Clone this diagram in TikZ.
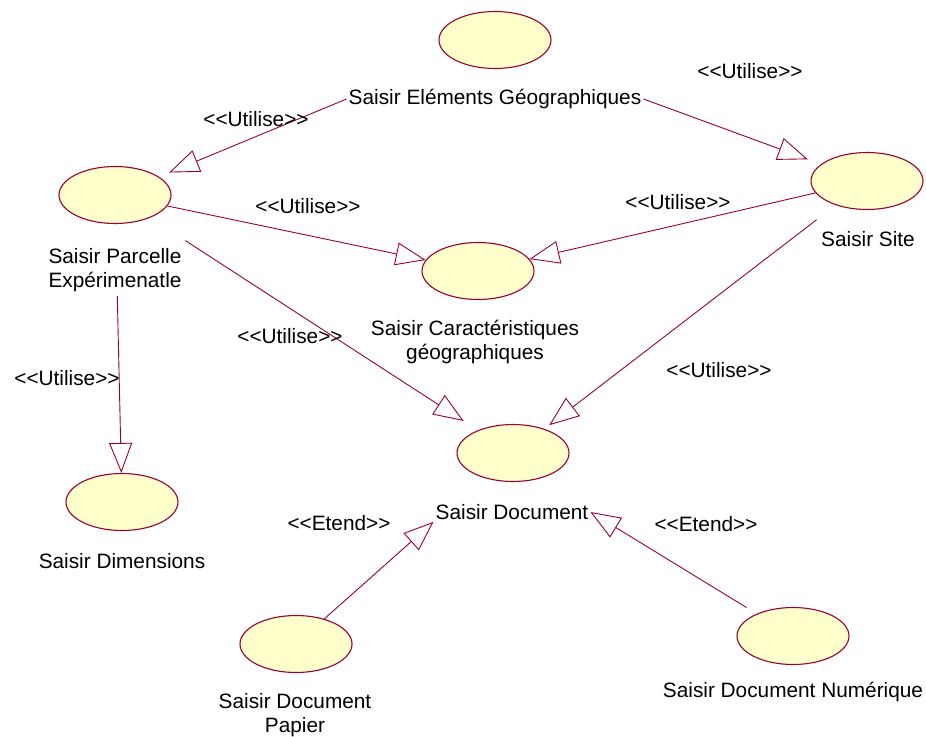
\documentclass[tikz,border=0pt]{standalone}
\usepackage{fontspec}
\setmainfont{Liberation Sans}
\usetikzlibrary{arrows.meta,shapes.geometric}

\definecolor{ucline}{RGB}{153,0,51}
\definecolor{ucfill}{RGB}{255,255,204}
\newcommand{\stname}[1]{<\kern0pt<#1>\kern0pt>}

\tikzset{
  uc/.style={ellipse,draw=ucline,fill=ucfill,line width=1.1pt,minimum width=112pt,minimum height=57pt,inner sep=0pt},
  uctext/.style={font=\fontsize{20.8}{24.5}\selectfont,inner sep=2pt,align=center},
  stereo/.style={font=\fontsize{20.8}{24.5}\selectfont,inner sep=1pt},
  dep/.style={draw=ucline,line width=0.9pt,-{Triangle[length=30pt,width=23pt,fill=white]}}
}

\begin{document}
\begin{tikzpicture}[x=1pt,y=-1pt]
\useasboundingbox (0,0) rectangle (926,736);
% use cases
\node[uc] (ucElem) at (495,40) {};
\node[uctext] (lbElem) at (495,99) {Saisir Eléments Géographiques};
\node[uc] (ucParc) at (115,195) {};
\node[uctext] (lbParc) at (115,270) {Saisir Parcelle\\Expérimenatle};
\node[uc] (ucCarac) at (478,271) {};
\node[uctext] (lbCarac) at (475,342) {Saisir Caractéristiques\\géographiques};
\node[uc] (ucSite) at (867,181) {};
\node[uctext] (lbSite) at (868,239) {Saisir Site};
\node[uc] (ucDoc) at (513,453) {};
\node[uctext] (lbDoc) at (512,512) {Saisir Document};
\node[uc] (ucDim) at (122,502) {};
\node[uctext] (lbDim) at (122,561) {Saisir Dimensions};
\node[uc] (ucPap) at (296,644) {};
\node[uctext] (lbPap) at (295,715) {Saisir Document\\Papier};
\node[uc] (ucNum) at (793,636) {};
\node[uctext] (lbNum) at (793,692) {Saisir Document Numérique};
% relations
\draw[dep,shorten >=11pt] (lbElem.west) -- (ucParc);
\draw[dep,shorten >=14pt] (lbElem.east) -- (ucSite);
\draw[dep] (ucParc) -- (ucCarac);
\draw[dep] (ucSite) -- (ucCarac);
\draw[dep,shorten <=42pt,shorten >=17pt] (ucParc) -- (ucDoc);
\draw[dep,shorten <=24pt,shorten >=6pt] (ucSite) -- (ucDoc);
\draw[dep,shorten <=72pt] (ucParc) -- (ucDim);
\draw[dep] (ucPap) -- (lbDoc.south west);
\draw[dep,shorten <=12pt] (ucNum) -- (lbDoc.east);
% stereotypes
\node[stereo] (stElemParc) at (256,119) {\stname{Utilise}};
\node[stereo] (stElemSite) at (750,71) {\stname{Utilise}};
\node[stereo] (stParcCarac) at (308,206) {\stname{Utilise}};
\node[stereo] (stSiteCarac) at (678,202) {\stname{Utilise}};
\node[stereo] (stParcDoc) at (290,336) {\stname{Utilise}};
\node[stereo] (stSiteDoc) at (719,370) {\stname{Utilise}};
\node[stereo] (stParcDim) at (67,378) {\stname{Utilise}};
\node[stereo] (stPapDoc) at (339,523) {\stname{Etend}};
\node[stereo] (stNumDoc) at (706,524) {\stname{Etend}};
\end{tikzpicture}
\end{document}
